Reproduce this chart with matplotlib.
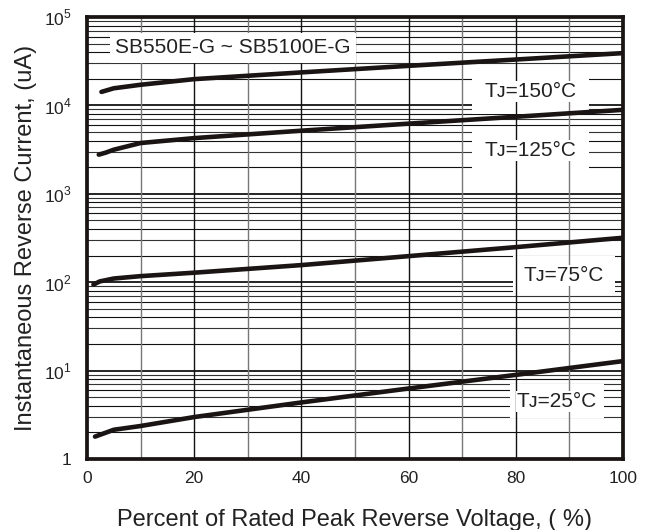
import numpy as np
import matplotlib.pyplot as plt
from matplotlib.ticker import FixedLocator, FuncFormatter

plt.rcParams['font.family'] = ['Liberation Sans', 'DejaVu Sans']
plt.rcParams['mathtext.fontset'] = 'custom'
plt.rcParams['mathtext.rm'] = 'Liberation Sans'

# percent of rated peak reverse voltage vs reverse current (uA)
x150 = [2.7, 5, 10, 20, 40, 60, 80, 100]
i150 = [14200, 15600, 17100, 19800, 23600, 28000, 33000, 39000]
x125 = [2.2, 3.5, 5, 10, 20, 40, 60, 80, 100]
i125 = [2770, 2920, 3150, 3750, 4260, 5170, 6210, 7430, 8900]
x75 = [1.2, 2.4, 5, 10, 20, 40, 60, 80, 100]
i75 = [94, 102, 110, 117, 128, 156, 197, 249, 318]
x25 = [1.5, 5, 10, 20, 40, 60, 80, 100]
i25 = [1.79, 2.14, 2.36, 2.98, 4.36, 6.27, 8.94, 12.8]

title = 'SB550E-G ~ SB5100E-G'
labels = ['Tᴊ=150°C', 'Tᴊ=125°C', 'Tᴊ=75°C', 'Tᴊ=25°C']

fig = plt.figure(figsize=(6.51, 5.30), dpi=100)
ax = fig.add_axes([0.1336, 0.134, 0.8234, 0.834])
ax.set_yscale('log')
ax.set_xlim(0, 100)
ax.set_ylim(1, 1e5)

# grid: horizontal lines under the label boxes, vertical lines over the wide box
for d in range(5):
    for m in range(2, 10):
        ax.axhline(m * 10**d, color='#333333' if m % 2 else '#111111', lw=0.8, zorder=1)
    if d > 0:
        ax.axhline(10**d, color='black', lw=1.2, zorder=1)
for xv in range(10, 100, 10):
    ax.axvline(xv, color='#111111' if xv % 20 == 0 else '#777777', lw=1.0, zorder=2)

for xs, ys in [(x150, i150), (x125, i125), (x75, i75), (x25, i25)]:
    ax.plot(xs, ys, color='#1a1414', lw=3.3, solid_capstyle='round', solid_joinstyle='round', zorder=3)

# label positions (x, y, wide box padding)
pos = [(82.8, 14200, 0.6), (82.8, 3080, 0.6), (89, 119, 0.5), (87.7, 4.52, 0.35)]
for (lx, ly, p), lab in zip(pos, labels):
    ax.text(lx, ly, lab, fontsize=15, va='center', ha='center', color='white',
            bbox=dict(facecolor='white', edgecolor='none', boxstyle='square,pad=%g' % p), zorder=1.5)
    ax.text(lx, ly, lab, fontsize=15, va='center', ha='center', color='#222222',
            bbox=dict(facecolor='white', edgecolor='none', boxstyle='square,pad=0.05'), zorder=4)
ax.text(5.2, 44700, title, fontsize=15, va='center', ha='left', color='#222222',
        bbox=dict(facecolor='white', edgecolor='none', boxstyle='square,pad=0.25'), zorder=4)

ax.xaxis.set_major_locator(FixedLocator([0, 20, 40, 60, 80, 100]))
ax.yaxis.set_major_locator(FixedLocator([1, 10, 100, 1e3, 1e4, 1e5]))
ax.yaxis.set_minor_locator(FixedLocator([]))
ax.yaxis.set_major_formatter(FuncFormatter(lambda v, p: '1' if v == 1 else '$10^{%d}$' % round(np.log10(v))))
ax.tick_params(length=0, labelsize=12.5, colors='#222222')
ax.tick_params(axis='x', pad=9)
ax.tick_params(axis='y', pad=11)
for s in ax.spines.values():
    s.set_linewidth(2.7)
    s.set_color('#1a1414')
    s.set_zorder(5)

ax.set_xlabel('Percent of Rated Peak Reverse Voltage, ( %)', fontsize=17, labelpad=16, color='#222222')
ax.set_ylabel('Instantaneous Reverse Current, (uA)', fontsize=17, labelpad=5, color='#222222')

fig.savefig('out.png', dpi=100)
